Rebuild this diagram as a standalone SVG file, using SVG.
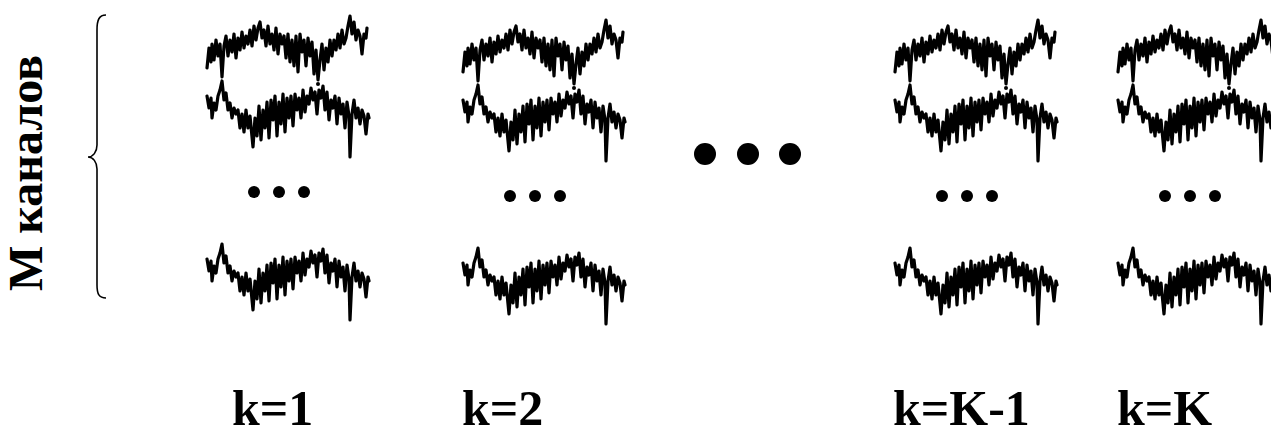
<svg xmlns="http://www.w3.org/2000/svg" xmlns:xlink="http://www.w3.org/1999/xlink" width="1271" height="438" viewBox="0 0 1271 438">
<style>
.sig{fill:none;stroke:#000;stroke-width:3.2;stroke-linejoin:round;stroke-linecap:round}
.lbl{font-family:"Liberation Serif","Times New Roman",serif;font-weight:bold;font-size:50px;fill:#000}
.brace{fill:none;stroke:#000;stroke-width:1.6}
</style>
<defs>
<path id="sigT" class="sig" d="M207,68 L209,48 211,62 212,44 214,60 216,40 218,56 220,44 222,77 224,46 226,36 228,56 230,40 232,52 234,34 236,58 238,38 240,50 242,32 244,48 246,36 248,44 250,30 252,46 254,26 256,40 258,28 260,22 262,38 264,30 266,46 268,26 270,44 272,34 274,50 276,28 278,54 280,34 282,44 284,36 286,58 288,34 290,62 292,40 294,66 296,36 298,72 300,34 302,52 304,40 306,66 308,38 310,56 312,42 314,74 316,50 318,80 320,60 322,44 324,70 326,48 328,62 330,40 332,56 334,40 336,50 338,34 340,48 342,30 344,44 346,38 348,26 350,16 352,34 354,22 356,40 358,30 360,36 362,54 364,34 366,38 367,28"/>
<path id="sigM" class="sig" d="M207,96 L209,108 211,98 212,118 214,103 216,110 218,96 220,90 222,81 224,100 226,93 228,110 230,103 232,118 234,108 236,114 238,110 240,128 242,114 244,132 246,110 248,128 250,116 253,147 255,118 257,136 259,106 261,140 263,110 265,128 267,102 269,138 271,100 273,120 275,96 277,136 279,102 281,124 283,94 285,132 287,98 289,118 291,96 293,126 295,94 297,110 299,98 301,118 303,90 305,112 307,96 309,104 311,88 313,100 315,92 317,114 319,90 321,98 323,86 325,110 327,92 329,120 331,100 333,108 335,96 337,124 339,98 341,114 343,104 345,128 347,102 349,116 350,157 352,114 354,100 356,118 358,108 360,124 362,110 364,116 366,134 368,114 369,118"/>
<g id="colBase">
<use xlink:href="#sigT"/>
<use xlink:href="#sigM"/>
<circle cx="318" cy="84" r="2"/>
<circle cx="254" cy="192" r="6"/>
<circle cx="279" cy="192" r="6"/>
<circle cx="304" cy="192" r="6"/>
<use xlink:href="#sigM" transform="translate(0,163)"/>
</g>
</defs>
<rect width="1271" height="438" fill="#fff"/>
<g id="axis-label">
<text class="lbl" style="font-size:48px" text-anchor="middle" transform="translate(42,173) rotate(-90)">М каналов</text>
</g>
<g id="brace">
<path class="brace" d="M106,15 C99,15 97,20 97,30 L97,145 C97,152 93,157 88,157 C93,157 97,162 97,169 L97,285 C97,294 99,298 106,298"/>
</g>
<g id="col-k1"><use xlink:href="#colBase"/></g>
<g id="col-k2"><use xlink:href="#colBase" transform="translate(256,4)"/></g>
<g id="ellipsis">
<circle cx="705" cy="154" r="11"/>
<circle cx="748" cy="154" r="11"/>
<circle cx="790" cy="154" r="11"/>
</g>
<g id="col-kK-1"><use xlink:href="#colBase" transform="translate(688,4)"/></g>
<g id="col-kK"><use xlink:href="#colBase" transform="translate(911,4)"/></g>
<g id="labels">
<text class="lbl" x="232" y="425">k=1</text>
<text class="lbl" x="462" y="425">k=2</text>
<text class="lbl" x="893" y="425">k=K-1</text>
<text class="lbl" x="1117" y="425">k=K</text>
</g>
<g id="connectors"/>
</svg>
